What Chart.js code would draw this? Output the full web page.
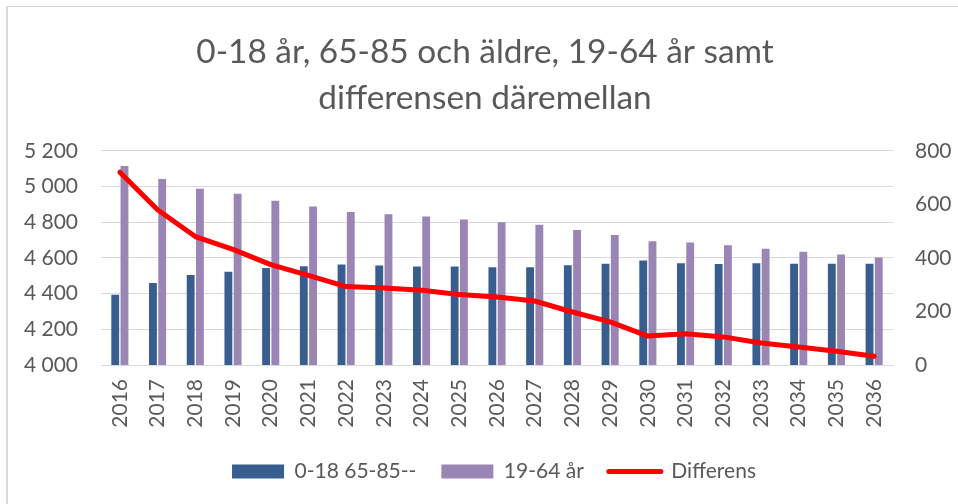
<!DOCTYPE html>
<html>
<head>
<meta charset="utf-8">
<script src="https://cdn.jsdelivr.net/npm/chart.js"></script>
<style>
  html, body { margin: 0; padding: 0; background: #fff; }
  #wrap { position: relative; width: 958px; height: 504px; }
  #frame { position: absolute; left: 6px; top: 6px; right: -4px; bottom: -4px;
           border-top: 1px solid #d9d9d9; border-left: 2px solid #d9d9d9; pointer-events: none; }
</style>
</head>
<body>
<div id="wrap">
  <canvas id="chart" width="958" height="504"></canvas>
  <div id="frame"></div>
</div>
<script>
// årtal och serier
const years = ['2016', '2017', '2018', '2019', '2020', '2021', '2022', '2023', '2024', '2025', '2026',
               '2027', '2028', '2029', '2030', '2031', '2032', '2033', '2034', '2035', '2036'];
const ungaAldre = [4393, 4460, 4505, 4522, 4544, 4553, 4563, 4557, 4552, 4552, 4548,
                   4548, 4559, 4568, 4585, 4570, 4566, 4570, 4568, 4568, 4568];
const arbetsfor = [5115, 5042, 4987, 4959, 4920, 4888, 4858, 4845, 4832, 4815, 4800,
                   4786, 4756, 4728, 4693, 4687, 4671, 4652, 4635, 4619, 4602];
const differens = [720, 580, 480, 432, 375, 335, 293, 288, 279, 263, 254,
                   239, 198, 161, 108, 117, 105, 82, 67, 51, 33];

const leftMin = 4000, leftMax = 5200, leftStep = 200;
const rightMin = 0, rightMax = 800, rightStep = 200;

const grey = '#595959';
const gridGrey = '#d9d9d9';

Chart.defaults.font.family = 'Lato';
Chart.defaults.color = grey;

// tusentalsavgränsare med mellanslag: 5 200
const fmt = v => String(v).replace(/\B(?=(\d{3})+(?!\d))/g, ' ');

// titel och legend ligger lite till höger om mitten i originalet
const nudge = {
    id: 'nudge',
    afterUpdate(chart) {
        chart.legend.left += 15;
        chart.legend.right += 15;
        chart.titleBlock.left += 6;
        chart.titleBlock.right += 6;
    }
};

new Chart(document.getElementById('chart'), {
    type: 'bar',
    data: {
        labels: years,
        datasets: [
            { label: '0-18 65-85--', data: ungaAldre, backgroundColor: '#385e8f', yAxisID: 'y', order: 2,
              categoryPercentage: 0.49, barPercentage: 0.85 },
            { label: '19-64 år', data: arbetsfor, backgroundColor: '#9a85b5', yAxisID: 'y', order: 2,
              categoryPercentage: 0.49, barPercentage: 0.85 },
            { type: 'line', label: 'Differens', data: differens, borderColor: '#ff0000', backgroundColor: '#ff0000',
              borderWidth: 5, pointRadius: 0, tension: 0, borderCapStyle: 'round', borderJoinStyle: 'round',
              yAxisID: 'y1', order: 1 }
        ]
    },
    plugins: [nudge],
    options: {
        responsive: false,
        animation: false,
        layout: { padding: { left: 0, right: 0, top: 0, bottom: 12 } },
        plugins: {
            tooltip: { enabled: false },
            title: {
                display: true,
                text: ['0-18 år, 65-85 och äldre, 19-64 år samt', 'differensen däremellan'],
                color: grey,
                font: { size: 33.4, weight: 'normal', lineHeight: 1.36 },
                padding: { top: 30, bottom: 30 }
            },
            legend: {
                position: 'bottom',
                labels: {
                    usePointStyle: true,
                    pointStyleWidth: 52,
                    boxHeight: 14,
                    padding: 25,
                    color: grey,
                    font: { size: 21 },
                    generateLabels: chart => chart.data.datasets.map((ds, i) => ({
                        text: ds.label,
                        fillStyle: ds.backgroundColor,
                        strokeStyle: ds.type === 'line' ? ds.borderColor : ds.backgroundColor,
                        lineWidth: ds.type === 'line' ? 5 : 0,
                        lineCap: 'round',
                        pointStyle: ds.type === 'line' ? 'line' : 'rect',
                        fontColor: grey,
                        hidden: false,
                        datasetIndex: i
                    }))
                }
            }
        },
        scales: {
            x: {
                offset: true,
                grid: { display: false, drawTicks: false },
                border: { display: true, color: gridGrey, width: 1 },
                ticks: { autoSkip: false, minRotation: 90, maxRotation: 90, padding: 14, font: { size: 21 }, color: grey },
                afterFit: s => { s.height = 71; }
            },
            y: {
                position: 'left',
                min: leftMin, max: leftMax,
                ticks: { stepSize: leftStep, padding: 23, font: { size: 21 }, color: grey, callback: v => fmt(v) },
                grid: { color: gridGrey, lineWidth: 1, drawTicks: false },
                border: { display: false },
                afterFit: s => { s.width = 101; }
            },
            y1: {
                position: 'right',
                min: rightMin, max: rightMax,
                ticks: { stepSize: rightStep, padding: 22, font: { size: 21 }, color: grey },
                grid: { drawOnChartArea: false, drawTicks: false },
                border: { display: false },
                afterFit: s => { s.width = 65; }
            }
        }
    }
});
</script>
</body>
</html>
